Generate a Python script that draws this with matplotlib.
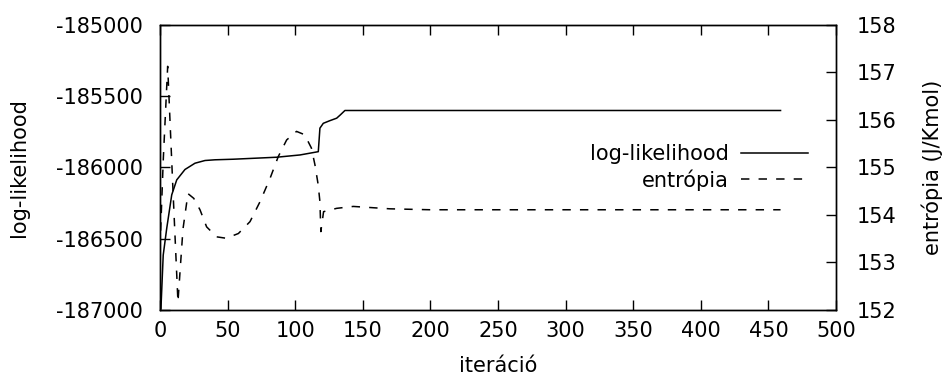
import matplotlib
matplotlib.use('Agg')
import matplotlib.pyplot as plt
import numpy as np

# log-likelihood (left axis)
ll_iter = [0, 0.7, 2.4, 5, 8.7, 12.4, 18.5, 25.9, 33.3, 40.7, 54.2, 86.3,
           103.6, 117.1, 118.3, 120.8, 125.5, 130.7, 133.5, 136.8, 459]
ll_val = [-187000, -186993, -186615, -186427, -186192, -186087, -186014,
          -185970, -185951, -185946, -185942, -185928, -185912, -185889,
          -185724, -185690, -185672, -185654, -185630, -185600, -185600]

# entropy (right axis)
en_iter = [0, 2.5, 5.7, 9.5, 13.3, 17, 20.7, 25, 29.6, 34.5, 41.9, 49, 58,
           66.6, 74, 81.4, 87.5, 93.7, 101, 107, 112, 114.6, 117, 118.3,
           119, 121, 130.7, 143, 170, 200, 459]
en_val = [153.3, 155.2, 157.13, 154.6, 152.17, 153.7, 154.45, 154.35, 154.11,
          153.75, 153.54, 153.51, 153.61, 153.86, 154.28, 154.77, 155.23,
          155.58, 155.76, 155.69, 155.41, 155.06, 154.64, 154.28, 153.65,
          154.07, 154.14, 154.18, 154.13, 154.11, 154.11]

plt.rcParams['font.family'] = 'DejaVu Sans'
plt.rcParams['font.size'] = 15
plt.rcParams['axes.unicode_minus'] = False

fig = plt.figure(figsize=(9.46, 3.81), dpi=100)
ax = fig.add_axes([0.1691, 0.1864, 0.8837 - 0.1691, 0.9344 - 0.1864])
ax2 = ax.twinx()

l1, = ax.plot(ll_iter, ll_val, color='black', lw=1.1, label='log-likelihood')
l2, = ax2.plot(en_iter, en_val, color='black', lw=1.1, dashes=(5.5, 6),
               label='entrópia')

ax.set_xlim(0, 500)
ax.set_ylim(-187000, -185000)
ax2.set_ylim(152, 158)
ax.set_xticks(np.arange(0, 501, 50))
ax.set_yticks(np.arange(-187000, -184999, 500))
ax2.set_yticks(np.arange(152, 158.1, 1))

ax.tick_params(direction='in', length=7, width=1, top=True, pad=8)
ax.tick_params(axis='y', right=False, pad=12)
ax2.tick_params(direction='in', length=7, width=1, pad=15)

for a in (ax, ax2):
    for s in a.spines.values():
        s.set_linewidth(1)

ax.set_xlabel('iteráció', labelpad=11)
ax.set_ylabel('log-likelihood', labelpad=20)
ax2.set_ylabel('entrópia (J/Kmol)', labelpad=18)

ax.legend([l1, l2], ['log-likelihood', 'entrópia'], loc='upper right',
          bbox_to_anchor=(0.971, 0.612), frameon=False, markerfirst=False,
          handlelength=3.2, handletextpad=0.6, labelspacing=0.25,
          borderaxespad=0)

fig.savefig('out.png', dpi=100)
